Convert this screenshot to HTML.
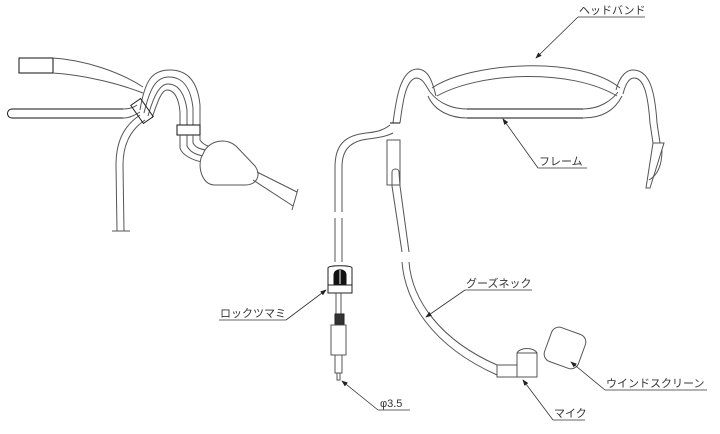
<!DOCTYPE html>
<html><head><meta charset="utf-8"><style>
html,body{margin:0;padding:0;background:#fff;}
svg{display:block;}
text{font-family:"Liberation Sans","Noto Sans CJK JP",sans-serif;font-size:11px;fill:#333;}
</style></head><body>
<svg width="720" height="434" viewBox="0 0 720 434" xmlns="http://www.w3.org/2000/svg">
<defs><marker id="a" markerWidth="8" markerHeight="6" refX="7" refY="3" orient="auto"><path d="M0,0 L8,3 L0,6 Z" fill="#222"/></marker></defs>
<g fill="none" stroke="#555" stroke-width="1">
<!-- LEFT FIGURE -->
<rect x="19" y="58" width="34" height="15" stroke="#111"/>
<path d="M53,58 C85,60 120,72 143,87"/>
<path d="M53,73 C85,75 120,84 143,93"/>
<path d="M123,109 L12,109 A4.5,4.5 0 0 0 12,118 L123,118" stroke="#111"/>
<path d="M123,109 C128,109 133,108 137,105"/>
<path d="M123,118 C130,118 135,115 140,112"/>
<path d="M117,231 L116,165 C116,140 125,125 140,115"/>
<path d="M124,231 L123,165 C123,145 130,130 145,120"/>
<path d="M112,231 L130,231"/>
<path d="M140,110 C145,80 152,70 170,70 C190,70 198,85 200,105 L200,125"/>
<path d="M144,113 C150,88 156,77 169,77 C184,77 191,90 193,108 L193,125"/>
<path d="M148,116 C154,95 160,84 168,84 C179,84 185,95 187,110 L187,125"/>
<path d="M152,118 C158,100 162,90 167,90 C175,90 179,100 180,112 L180,125"/>
<rect x="136" y="100" width="12" height="22" transform="rotate(-35 142 111)" stroke="#222"/>
<rect x="177" y="125" width="23" height="10" stroke="#111"/>
<path d="M180,135 L180,148 C182,155 192,160 202,162"/>
<path d="M187,135 L187,146 C190,152 196,155 204,156"/>
<path d="M193,135 L193,143 C196,148 200,149 206,150"/>
<path d="M200,135 L200,140 C202,143 205,145 208,146"/>
<path d="M205,150 C212,140 226,138 236,146 L255,166 C262,176 256,185 245,185 L215,185 C203,185 198,170 201,158 Z" fill="#fff"/>
<path d="M257,172 L297,192 M253,180 L293,206 M298,189 L292,210"/>
<!-- HEADBAND -->
<path d="M432,88 C470,62 580,55 620,88"/>
<path d="M437,96 C480,72 570,68 617,96"/>
<path d="M430,92 C440,105 455,109 467,109 L583,109 C600,109 612,100 618,92"/>
<path d="M428,96 C435,112 452,118 467,118 L583,118 C602,118 615,110 622,96"/>
<path d="M467,109 L583,109 M467,118 L583,118" stroke="#111"/>
<path d="M393,123 C396,100 400,70 417,69 C428,69 432,80 436,96"/>
<path d="M400,123 C403,100 406,80 416,78 C423,78 426,86 430,92"/>
<path d="M390,123 L400,123" stroke="#111"/>
<path d="M616,90 C620,75 627,70 633,70 C650,70 655,92 657,123 L660,143"/>
<path d="M623,94 C626,82 630,78 634,78 C644,78 648,95 650,123 L653,143"/>
<path d="M653,143 L664,143 L650,188 L646,188 Z"/>
<path d="M662,150 C662,165 658,175 649,180"/>
<!-- boom -->
<rect x="387" y="140" width="13" height="45"/>
<path d="M392,186 L392,172 C392,168 399,168 399,172 L400,186"/>
<path d="M392,186 L402,252 M400,186 L409,252"/>
<path d="M402,262 C405,300 430,345 497,375"/>
<path d="M409,262 C412,300 440,340 497,365"/>
<rect x="497" y="365" width="20" height="12" fill="#fff"/>
<rect x="517" y="353" width="20" height="24" fill="#fff"/>
<path d="M517,353 C520,347 534,347 537,353"/>
<rect x="547" y="330" width="36" height="36" rx="8" transform="rotate(20 565 348)"/>
<!-- cable -->
<path d="M390,125 C380,133 370,132 360,134 C345,137 335,145 335,167 L335,212"/>
<path d="M393,133 C383,138 372,138 362,140 C350,143 342,150 342,167 L342,212"/>
<path d="M335,218 L335,262 M342,218 L342,262"/>
<path d="M328,268 C328,265 352,265 352,268 L352,293 L328,293 Z" fill="#fff" stroke="#222"/>
<path d="M328,285 L352,285" stroke="#222"/>
<path d="M334,284 L334,275 C334,268 346,268 346,275 L346,284 Z" fill="#111" stroke="#111"/>
<path d="M340,270 L340,284" stroke="#fff"/>
<path d="M336,293 L336,315 M341,293 L341,315"/>
<rect x="335" y="314" width="9" height="10" fill="#333" stroke="#222"/>
<rect x="331" y="325" width="15" height="30" fill="#fff"/>
<rect x="335" y="355" width="7" height="18"/>
<rect x="337" y="373" width="3" height="7"/>
</g>
<!-- leaders -->
<g stroke="#333" stroke-width="0.8" fill="none">
<path d="M578,17 L645,17 M578,17 L536,58" marker-end="url(#a)"/>
<path d="M538,168 L587,168 M538,168 L503,119" marker-end="url(#a)"/>
<path d="M465,290 L532,290 M465,290 L426,317" marker-end="url(#a)"/>
<path d="M605,390 L707,390 M605,390 L571,362" marker-end="url(#a)"/>
<path d="M553,420 L585,420 M553,420 L523,380" marker-end="url(#a)"/>
<path d="M219,320 L286,320 M286,320 L326,290" marker-end="url(#a)"/>
<path d="M378,410 L410,410 M378,410 L342,381" marker-end="url(#a)"/>
</g>
<text x="579" y="14">ヘッドバンド</text>
<text x="539" y="165">フレーム</text>
<text x="466" y="287">グーズネック</text>
<text x="606" y="387">ウインドスクリーン</text>
<text x="554" y="417">マイク</text>
<text x="220" y="317">ロックツマミ</text>
<text x="380" y="407">φ3.5</text>
</svg>
</body></html>
